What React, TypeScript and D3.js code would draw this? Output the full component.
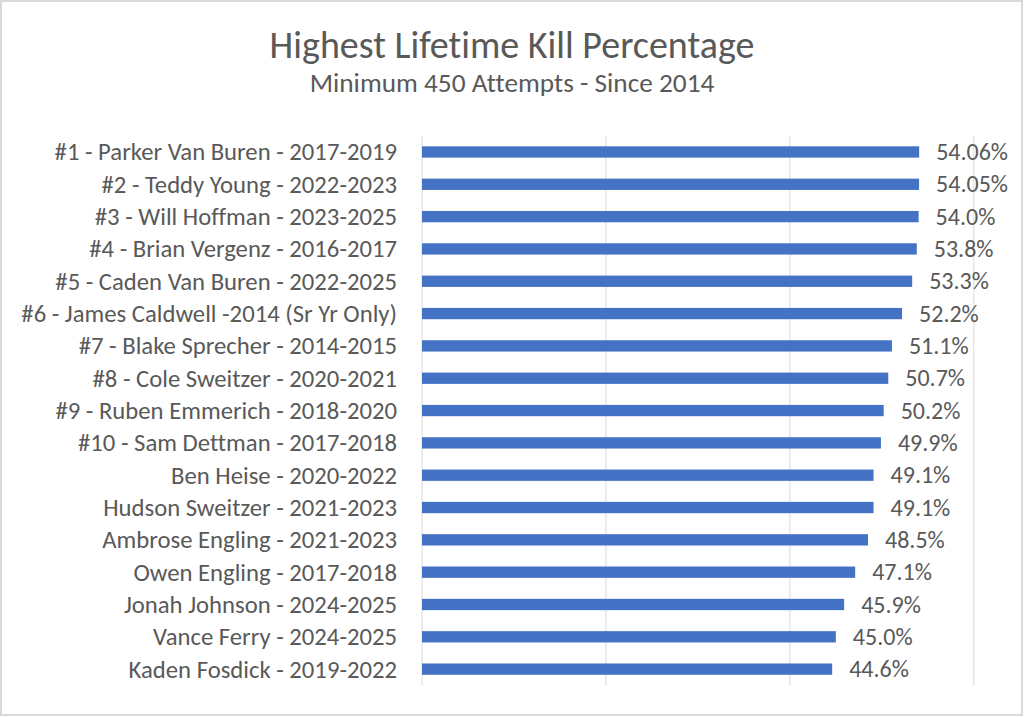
import React from "react";
import * as d3 from "d3";

const categories = [
  "#1 - Parker Van Buren - 2017-2019",
  "#2 - Teddy Young - 2022-2023",
  "#3 - Will Hoffman - 2023-2025",
  "#4 - Brian Vergenz - 2016-2017",
  "#5 - Caden Van Buren - 2022-2025",
  "#6 - James Caldwell -2014 (Sr Yr Only)",
  "#7 - Blake Sprecher - 2014-2015",
  "#8 - Cole Sweitzer - 2020-2021",
  "#9 - Ruben Emmerich - 2018-2020",
  "#10 - Sam Dettman - 2017-2018",
  "Ben Heise - 2020-2022",
  "Hudson Sweitzer - 2021-2023",
  "Ambrose Engling - 2021-2023",
  "Owen Engling - 2017-2018",
  "Jonah Johnson - 2024-2025",
  "Vance Ferry - 2024-2025",
  "Kaden Fosdick - 2019-2022",
];

const values = [54.06, 54.05, 54.0, 53.8, 53.3, 52.2, 51.1, 50.7, 50.2, 49.9, 49.1, 49.1, 48.5, 47.1, 45.9, 45.0, 44.6];

const valueLabels = ["54.06%", "54.05%", "54.0%", "53.8%", "53.3%", "52.2%", "51.1%", "50.7%", "50.2%", "49.9%", "49.1%", "49.1%", "48.5%", "47.1%", "45.9%", "45.0%", "44.6%"];

const xTicks = [0, 20, 40, 60];

const title = "Highest Lifetime Kill Percentage";
const subtitle = "Minimum 450 Attempts - Since 2014";

export default function App() {
  const W = 1024;
  const H = 717;
  const left = 422;
  const right = 973.8;
  const top = 135.8;
  const bottom = 685.3;
  const font = "Calibri, Carlito, 'Open Sans', 'Noto Sans', sans-serif";
  const textColor = "#595959";

  const x = d3.scaleLinear().domain([0, 60]).range([left, right]);
  const y = d3.scaleBand<string>().domain(categories).range([top, bottom]).paddingInner(0.65).paddingOuter(0.325);

  return (
    <svg width={W} height={H} style={{ position: "absolute", left: 0, top: 0, display: "block", fontVariantLigatures: "none" }} fontFamily={font}>
      <rect x={0} y={0} width={W} height={H} fill="#ffffff" />
      <rect x={1} y={1} width={W - 3} height={H - 3} fill="none" stroke="#d9d9d9" strokeWidth={2} />
      <text x={512} y={58} textAnchor="middle" fontSize={38} fill={textColor}>{title}</text>
      <text x={512} y={92} textAnchor="middle" fontSize={27.3} fill={textColor}>{subtitle}</text>
      {xTicks.map((t) => (
        <line key={t} x1={x(t)} x2={x(t)} y1={top} y2={bottom} stroke="#d9d9d9" strokeWidth={1} />
      ))}
      {categories.map((c, i) => {
        const yy = y(c)!;
        const bw = y.bandwidth();
        return (
          <g key={c}>
            <rect x={x(0)} y={yy} width={x(values[i]) - x(0)} height={bw} fill="#4472C4" />
            <text x={397} y={yy + bw / 2} dy="0.34em" textAnchor="end" fontSize={24.7} fill={textColor}>{c}</text>
            <text x={x(values[i]) + 17} y={yy + bw / 2} dy="0.34em" textAnchor="start" fontSize={24} fill={textColor}>{valueLabels[i]}</text>
          </g>
        );
      })}
    </svg>
  );
}
